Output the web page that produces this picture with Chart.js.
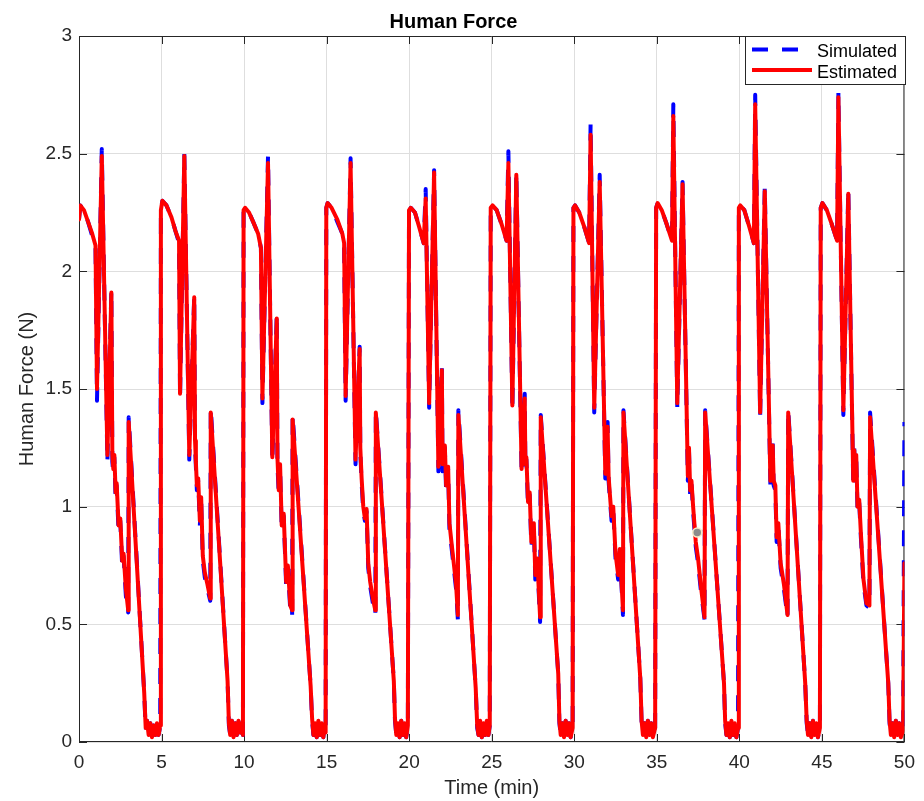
<!DOCTYPE html>
<html><head><meta charset="utf-8">
<script src="https://cdn.jsdelivr.net/npm/chart.js@4.4.1/dist/chart.umd.min.js"></script>
<style>html,body{margin:0;padding:0;background:#fff;}canvas{display:block;}</style>
</head><body>
<canvas id="c" width="924" height="801"></canvas>
<script>
// ---- data (time in minutes, force in N) ----
const timeMin = [
 0.00,0.08,0.30,0.55,0.80,1.00,1.09,1.38,1.72,1.96,2.02,2.08,2.14,2.22,2.28,2.40,2.50,2.62,2.70,2.84,2.98,3.01,3.95,4.04,4.12,4.22,4.32,4.42,4.52,4.62,4.72,4.82,4.92,
 4.96,5.05,5.30,5.60,5.85,6.06,6.12,6.38,6.68,6.98,7.03,7.08,7.14,7.22,7.32,7.40,7.50,7.62,7.78,7.95,7.98,9.00,9.08,9.16,9.26,9.36,9.46,9.56,9.66,9.76,9.86,9.93,
 9.97,10.06,10.30,10.55,10.85,11.02,11.11,11.45,11.71,11.98,12.02,12.10,12.18,12.28,12.40,12.55,12.65,12.80,12.91,12.94,14.03,14.12,14.20,14.30,14.40,14.50,14.60,14.70,14.80,14.88,14.94,
 14.98,15.06,15.30,15.65,15.95,16.06,16.15,16.45,16.75,17.00,17.04,17.12,17.22,17.32,17.42,17.52,17.64,17.80,17.95,17.98,19.07,19.14,19.22,19.32,19.42,19.52,19.62,19.72,19.82,19.92,
 19.99,20.10,20.35,20.60,20.88,21.00,21.21,21.51,21.77,21.98,22.02,22.16,22.24,22.36,22.44,22.56,22.70,22.84,22.95,22.98,24.03,24.12,24.20,24.30,24.40,24.50,24.60,24.70,24.80,24.88,
 24.94,25.05,25.30,25.60,25.90,26.01,26.25,26.49,26.81,27.00,27.04,27.10,27.20,27.30,27.40,27.55,27.64,27.76,27.93,27.97,29.03,29.10,29.18,29.28,29.38,29.48,29.58,29.68,29.78,29.90,
 29.95,30.05,30.30,30.60,30.90,30.99,31.21,31.54,31.88,32.02,32.08,32.16,32.26,32.36,32.50,32.66,32.76,32.95,32.98,34.00,34.08,34.16,34.26,34.36,34.46,34.56,34.66,34.76,34.90,
 34.96,35.05,35.30,35.60,35.92,36.00,36.24,36.56,36.88,36.95,37.02,37.10,37.20,37.36,37.50,37.66,37.89,37.93,39.07,39.14,39.22,39.32,39.42,39.52,39.62,39.72,39.82,39.92,
 39.97,40.06,40.30,40.60,40.88,40.96,41.26,41.54,41.88,42.02,42.08,42.18,42.26,42.36,42.50,42.70,42.92,42.96,43.99,44.08,44.16,44.26,44.36,44.46,44.56,44.66,44.76,44.88,
 44.93,45.03,45.30,45.60,45.92,46.00,46.30,46.60,46.90,46.96,47.02,47.08,47.16,47.26,47.36,47.52,47.70,47.88,47.92,49.02,49.10,49.18,49.28,49.38,49.48,49.58,49.68,49.78,49.92,50.00
];
const simulatedN = [
 2.22,2.28,2.26,2.21,2.15,2.10,1.45,2.52,1.19,1.92,1.19,1.14,1.21,1.03,1.09,0.89,0.94,0.74,0.79,0.62,0.55,1.38,0.21,0.05,0.09,0.02,0.08,0.02,0.07,0.03,0.08,0.03,0.07,
 2.26,2.30,2.28,2.23,2.17,2.12,1.46,2.50,1.20,1.90,1.25,1.17,1.07,1.11,0.92,1.03,0.77,0.70,0.65,0.60,1.42,0.26,0.07,0.03,0.09,0.02,0.08,0.03,0.09,0.04,0.08,0.03,
 2.26,2.27,2.25,2.21,2.16,2.10,1.44,2.49,1.19,1.82,1.18,1.05,1.17,0.90,0.96,0.66,0.74,0.56,0.53,1.39,0.24,0.09,0.03,0.08,0.02,0.09,0.03,0.08,0.02,0.07,0.04,
 2.27,2.29,2.27,2.21,2.16,2.10,1.45,2.48,1.18,1.68,1.23,1.10,0.98,0.94,0.98,0.74,0.66,0.59,0.54,1.41,0.26,0.09,0.03,0.08,0.02,0.09,0.03,0.08,0.02,0.07,
 2.26,2.27,2.25,2.19,2.12,2.35,1.42,2.43,1.15,1.60,1.15,1.25,1.06,1.16,0.90,0.83,0.74,0.65,0.52,1.41,0.23,0.06,0.03,0.09,0.02,0.08,0.03,0.09,0.03,0.07,
 2.27,2.28,2.26,2.20,2.13,2.51,1.41,2.42,1.14,1.48,1.16,1.20,1.00,1.05,0.83,0.92,0.69,0.77,0.51,1.39,0.29,0.08,0.03,0.08,0.02,0.09,0.03,0.08,0.02,0.06,
 2.27,2.28,2.25,2.19,2.12,2.63,1.40,2.41,1.12,1.36,1.11,1.03,0.94,0.99,0.78,0.69,0.81,0.54,1.41,0.27,0.08,0.03,0.08,0.02,0.09,0.03,0.08,0.02,0.06,
 2.27,2.29,2.26,2.20,2.13,2.71,1.42,2.38,1.11,1.24,1.05,1.10,0.98,0.83,0.76,0.65,0.52,1.41,0.25,0.08,0.03,0.08,0.02,0.09,0.03,0.08,0.02,0.06,
 2.27,2.28,2.26,2.19,2.12,2.75,1.38,2.36,1.09,1.27,1.09,1.07,0.85,0.92,0.74,0.65,0.53,1.41,0.25,0.08,0.03,0.08,0.02,0.09,0.03,0.08,0.02,0.06,
 2.27,2.29,2.26,2.20,2.13,2.76,1.39,2.35,1.09,1.25,1.11,1.21,0.98,1.02,0.87,0.67,0.58,0.57,1.40,0.25,0.08,0.03,0.08,0.02,0.09,0.03,0.08,0.02,0.05,1.36
];
const estimatedN = [
 2.22,2.28,2.26,2.21,2.16,2.11,1.50,2.49,1.22,1.91,1.22,1.16,1.22,1.06,1.10,0.92,0.95,0.77,0.80,0.65,0.56,1.36,0.21,0.06,0.09,0.03,0.08,0.02,0.07,0.03,0.08,0.03,0.07,
 2.26,2.30,2.28,2.23,2.17,2.13,1.48,2.49,1.22,1.89,1.28,1.19,1.09,1.12,0.94,1.04,0.79,0.72,0.67,0.61,1.40,0.26,0.08,0.03,0.09,0.02,0.08,0.03,0.09,0.04,0.08,0.03,
 2.26,2.27,2.25,2.21,2.16,2.10,1.46,2.46,1.21,1.80,1.21,1.07,1.18,0.92,0.97,0.68,0.75,0.58,0.56,1.37,0.24,0.10,0.03,0.08,0.02,0.09,0.03,0.08,0.02,0.07,0.04,
 2.27,2.29,2.27,2.22,2.16,2.12,1.47,2.46,1.20,1.67,1.25,1.12,1.00,0.95,0.99,0.76,0.68,0.61,0.56,1.40,0.26,0.10,0.03,0.08,0.02,0.09,0.03,0.08,0.02,0.07,
 2.26,2.27,2.25,2.19,2.12,2.31,1.44,2.42,1.17,1.58,1.18,1.26,1.09,1.17,0.93,0.85,0.76,0.67,0.54,1.39,0.23,0.07,0.03,0.09,0.02,0.08,0.03,0.09,0.03,0.07,
 2.27,2.28,2.26,2.20,2.13,2.46,1.43,2.41,1.16,1.46,1.18,1.21,1.02,1.06,0.85,0.93,0.71,0.78,0.53,1.38,0.29,0.09,0.03,0.08,0.02,0.09,0.03,0.08,0.02,0.06,
 2.27,2.28,2.25,2.19,2.12,2.58,1.42,2.38,1.14,1.34,1.13,1.05,0.96,1.00,0.80,0.71,0.82,0.56,1.40,0.27,0.09,0.03,0.08,0.02,0.09,0.03,0.08,0.02,0.06,
 2.27,2.29,2.26,2.20,2.13,2.66,1.44,2.37,1.13,1.25,1.07,1.11,1.00,0.85,0.78,0.67,0.53,1.40,0.25,0.09,0.03,0.08,0.02,0.09,0.03,0.08,0.02,0.06,
 2.27,2.28,2.26,2.19,2.12,2.71,1.40,2.34,1.11,1.26,1.11,1.09,0.87,0.93,0.76,0.67,0.54,1.40,0.25,0.09,0.03,0.08,0.02,0.09,0.03,0.08,0.02,0.06,
 2.27,2.29,2.26,2.20,2.13,2.74,1.41,2.33,1.11,1.24,1.13,1.22,1.00,1.03,0.89,0.69,0.59,0.58,1.38,0.25,0.09,0.03,0.08,0.02,0.09,0.03,0.08,0.02,0.05,0.76
];
const markerT = [37.45];
const markerN = [0.89];
const xTickLabels = ['0','5','10','15','20','25','30','35','40','45','50'];
const yTickLabels = ['0','0.5','1','1.5','2','2.5','3'];
const seriesNames = ['Simulated','Estimated'];

if (timeMin.length !== simulatedN.length || timeMin.length !== estimatedN.length) {
  console.error('length mismatch', timeMin.length, simulatedN.length, estimatedN.length);
}

const FONT = "'Liberation Sans', Arial, Helvetica, sans-serif";
const AX = '#262626';

const framePlugin = {
  id: 'frame',
  beforeDatasetsDraw(chart) {
    const {ctx, chartArea: a, scales} = chart;
    ctx.save();
    ctx.strokeStyle = AX; ctx.lineWidth = 1;
    ctx.beginPath();
    ctx.rect(a.left + 0.5, a.top + 0.5, a.right - a.left - 1, a.bottom - a.top - 1);
    const L = 8;
    scales.x.ticks.forEach(t => {
      const px = Math.round(scales.x.getPixelForValue(t.value)) + 0.5;
      ctx.moveTo(px, a.bottom); ctx.lineTo(px, a.bottom - L);
      ctx.moveTo(px, a.top); ctx.lineTo(px, a.top + L);
    });
    scales.y.ticks.forEach(t => {
      const py = Math.round(scales.y.getPixelForValue(t.value)) + 0.5;
      ctx.moveTo(a.left, py); ctx.lineTo(a.left + L, py);
      ctx.moveTo(a.right, py); ctx.lineTo(a.right - L, py);
    });
    ctx.stroke();
    ctx.restore();
  }
};

const legendPlugin = {
  id: 'boxLegend',
  afterDraw(chart) {
    const ctx = chart.ctx;
    const x0 = 745.5, y0 = 36.5, w = 160, h = 48;
    ctx.save();
    ctx.fillStyle = '#ffffff'; ctx.fillRect(x0, y0, w, h);
    ctx.strokeStyle = AX; ctx.lineWidth = 1; ctx.strokeRect(x0, y0, w, h);
    const rows = [chart.data.datasets[1], chart.data.datasets[0]];
    const ys = [49.5, 70];
    rows.forEach((ds, i) => {
      ctx.beginPath();
      ctx.strokeStyle = ds.borderColor; ctx.lineWidth = ds.borderWidth;
      ctx.setLineDash(ds.borderDash || []);
      ctx.lineCap = 'butt';
      ctx.moveTo(752, ys[i]); ctx.lineTo(812, ys[i]);
      ctx.stroke();
      ctx.setLineDash([]);
      ctx.fillStyle = '#000';
      ctx.font = '18px ' + FONT;
      ctx.textBaseline = 'alphabetic'; ctx.textAlign = 'left';
      ctx.fillText(ds.label, 817, ys[i] + 7.5);
    });
    ctx.restore();
  }
};

const pts = (ys) => timeMin.map((t, i) => ({x: t, y: ys[i]}));

new Chart(document.getElementById('c'), {
  type: 'line',
  data: {
    datasets: [
      { label: seriesNames[1], data: pts(estimatedN), borderColor: '#ff0000', borderWidth: 4,
        pointRadius: 0, tension: 0, fill: false, borderJoinStyle: 'round', borderCapStyle: 'round', order: 1 },
      { label: seriesNames[0], data: pts(simulatedN), borderColor: '#0000ff', borderWidth: 4,
        borderDash: [16, 14], borderJoinStyle: 'round', pointRadius: 0, tension: 0, fill: false, order: 2 },
      { label: 'marker', data: markerT.map((t, i) => ({x: t, y: markerN[i]})), showLine: false,
        pointRadius: 4.5, pointBackgroundColor: '#8c8c8c', pointBorderColor: '#f3ecc9', pointBorderWidth: 1.5, order: 0 }
    ]
  },
  options: {
    responsive: false, animation: false, devicePixelRatio: 1,
    layout: { padding: { left: 0, right: 17, top: 0, bottom: 0 } },
    plugins: {
      legend: { display: false },
      tooltip: { enabled: false },
      title: { display: true, text: 'Human Force', color: '#000',
        font: { family: FONT, size: 20, weight: 'bold', lineHeight: 1.2 },
        padding: { top: 10, bottom: 2 } }
    },
    scales: {
      x: {
        type: 'linear', min: 0, max: 50,
        ticks: { stepSize: 5, color: AX, padding: 9, maxRotation: 0, autoSkip: false,
          font: { family: FONT, size: 19 },
          callback: (v) => xTickLabels[Math.round(v / 5)] },
        grid: { color: '#dedede', lineWidth: 1, drawTicks: false },
        border: { display: false },
        title: { display: true, text: 'Time (min)', color: AX,
          font: { family: FONT, size: 20, lineHeight: 1.2 }, padding: { top: 0, bottom: 1 } },
        afterFit(s) { s.height = 59; }
      },
      y: {
        type: 'linear', min: 0, max: 3,
        ticks: { stepSize: 0.5, color: AX, padding: 7,
          font: { family: FONT, size: 19 },
          callback: (v) => yTickLabels[Math.round(v / 0.5)] },
        grid: { color: '#dedede', lineWidth: 1, drawTicks: false },
        border: { display: false },
        title: { display: true, text: 'Human Force (N)', color: AX,
          font: { family: FONT, size: 20, lineHeight: 1.2 }, padding: { top: 15, bottom: 0 } },
        afterFit(s) { s.width = 79; }
      }
    }
  },
  plugins: [framePlugin, legendPlugin]
});
</script>
</body></html>
